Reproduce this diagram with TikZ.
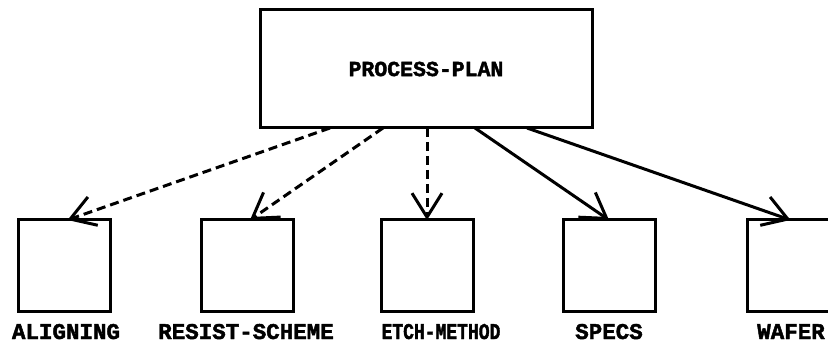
\documentclass[tikz,border=0pt]{standalone}
\usepackage{fontspec}
\setmonofont[BoldFeatures={FakeBold=2}]{Liberation Mono}
\usetikzlibrary{arrows.meta}
\tikzset{
  box/.style={draw, line width=3pt, inner sep=0pt, outer sep=0pt, minimum width=92pt, minimum height=91pt},
  topbox/.style={draw, line width=3pt, inner sep=0pt, outer sep=0pt, minimum width=332pt, minimum height=118pt, font=\ttfamily\bfseries\fontsize{21.5pt}{24pt}\selectfont},
  lbl/.style={anchor=base, inner sep=0pt, font=\ttfamily\bfseries\fontsize{22.5pt}{25pt}\selectfont},
  link/.style={line width=3pt, -{Straight Barb[length=24pt, width=30pt]}},
  dlink/.style={link, dash pattern=on 9pt off 5pt}
}
\begin{document}
\begin{tikzpicture}[x=1pt, y=1pt]
\useasboundingbox (0,0) rectangle (828,354);
\node[topbox] (pp) at (426,285) {\raisebox{-11pt}{PROCESS-PLAN}};
\node[box] (b1) at (64.5,88.5) {};
\node[box] (b2) at (247,88.5) {};
\node[box] (b3) at (427,88.5) {};
\node[box] (b4) at (609,88.5) {};
\node[box] (b5) at (793.5,88.5) {};
\node[lbl] (l1) at (66,15) {ALIGNING};
\node[lbl] (l2) at (246,15) {RESIST-SCHEME};
\node[lbl] (l3) at (441,15) {\scalebox{0.8}[1]{ETCH-METHOD}};
\node[lbl] (l4) at (609,15) {SPECS};
\node[lbl] (l5) at (791,15) {WAFER};
\draw[dlink] ([xshift=70pt]pp.south west) -- ([xshift=3pt]b1.north);
\draw[dlink] ([xshift=123pt]pp.south west) -- ([xshift=3pt]b2.north);
\draw[dlink] ([xshift=167pt]pp.south west) -- (b3.north);
\draw[link] ([xshift=215pt]pp.south west) -- (b4.north);
\draw[link] ([xshift=267pt]pp.south west) -- ([xshift=-3pt]b5.north);
\end{tikzpicture}
\end{document}
